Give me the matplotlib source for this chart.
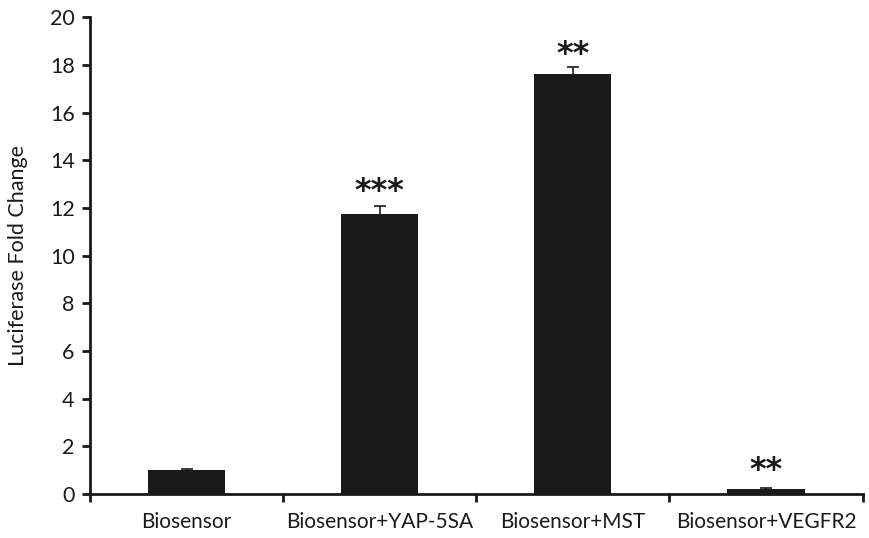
import numpy as np
import matplotlib
matplotlib.use("Agg")
import matplotlib.pyplot as plt

# data
categories = ["Biosensor", "Biosensor+YAP-5SA", "Biosensor+MST", "Biosensor+VEGFR2"]
fold_change = [1.0, 11.75, 17.6, 0.2]
errors = [0.05, 0.35, 0.3, 0.05]
stars = ["", "***", "**", "**"]
star_y = [0, 12.7, 18.45, 1.0]

plt.rcParams['font.family'] = ['Lato', 'DejaVu Sans']

fig = plt.figure(figsize=(8.7, 5.38), dpi=100)
ax = fig.add_axes([0.1034, 0.0818, 0.888, 0.8862])

x = np.arange(len(categories))
ax.bar(x, fold_change, width=0.4, color='#1a1a1a', yerr=errors,
       error_kw=dict(ecolor='#1a1a1a', elinewidth=1.2, capsize=4, capthick=1.2))

for xi, s, sy in zip(x, stars, star_y):
    if s:
        ax.text(xi, sy, s, ha='center', va='center', fontsize=23,
                fontweight='bold', family='DejaVu Sans', color='#1a1a1a')

ax.set_xlim(-0.5, 3.5)
ax.set_ylim(0, 20)
ax.set_yticks(np.arange(0, 21, 2))
ax.set_xticks(x)
ax.set_xticklabels(categories, fontsize=15, color='#1a1a1a')
ax.set_xticks(np.arange(-0.5, 3.6, 1), minor=True)
ax.tick_params(axis='x', which='major', length=0, pad=13)
ax.tick_params(axis='x', which='minor', length=6, width=2, direction='out', color='#1a1a1a')
ax.tick_params(axis='y', length=6, width=2, direction='out', labelsize=15.5,
               color='#1a1a1a', labelcolor='#1a1a1a', pad=5)
ax.set_ylabel("Luciferase Fold Change", fontsize=15.5, color='#1a1a1a', labelpad=16)

for side in ['top', 'right']:
    ax.spines[side].set_visible(False)
for side in ['left', 'bottom']:
    ax.spines[side].set_linewidth(2)
    ax.spines[side].set_color('#1a1a1a')

fig.savefig("out.png", dpi=100)
